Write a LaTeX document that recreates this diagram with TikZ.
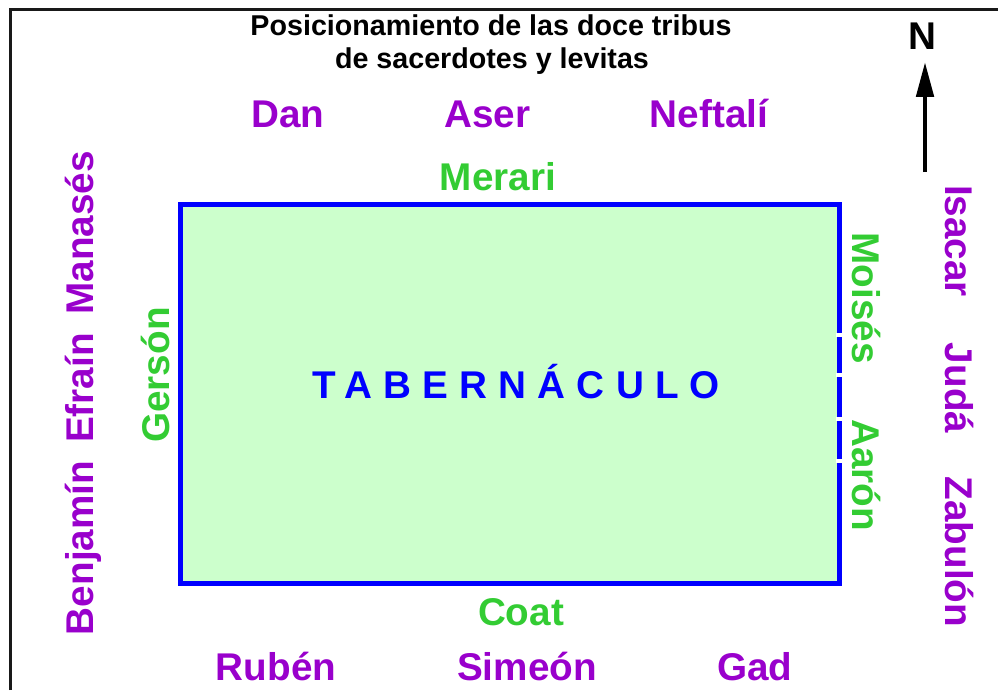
\documentclass[tikz,border=0pt]{standalone}
\usepackage{fontspec}
\setmainfont{Liberation Sans}
\newfontfamily\spacedfont[LetterSpace=29]{Liberation Sans}
\usetikzlibrary{arrows.meta}

\definecolor{tribu}{HTML}{9900CC}
\definecolor{levita}{HTML}{33CC33}
\definecolor{tabblue}{HTML}{0000FF}
\definecolor{tabfill}{HTML}{CCFFCC}

\newcommand{\labelfont}{\fontsize{29}{34}\selectfont\bfseries}
\tikzset{
  tribe/.style={text=tribu, font=\labelfont, inner sep=0pt, anchor=base},
  levite/.style={text=levita, font=\labelfont, inner sep=0pt, anchor=base},
}

\begin{document}
\begin{tikzpicture}[x=0.75pt, y=-0.75pt]
 \useasboundingbox (0,0) rectangle (998,690);
 \draw [line width=2.25pt, black!90] (10.5,690) -- (10.5,9.5) -- (998,9.5);

 \node (t1) at (491,35) [anchor=base, inner sep=0pt, font=\fontsize{21.5}{26}\selectfont\bfseries] {Posicionamiento de las doce tribus};
 \node (t2) at (492,68) [anchor=base, inner sep=0pt, font=\fontsize{21.5}{26}\selectfont\bfseries] {de sacerdotes y levitas};

 % tabernaculo
 \draw [fill=tabfill, draw=tabblue, line width=3.75pt] (180.5,204.5) rectangle (839,583.5);
 \foreach \y in {334.5,375,419,461} {
   \draw [white, line width=3pt] (836.3,\y) -- (842,\y);
 }
 \node (tab) at (312,398) [anchor=base west, inner sep=0pt, text=tabblue, font=\spacedfont\labelfont] {TABERNÁCULO};

 % levitas
 \node (merari) at (498,190) [levite] {Merari};
 \node (coat) at (521,625) [levite] {Coat};
 \node (gerson) at (169,375) [levite, rotate=90] {Gersón};
 \node (moises) at (852,298) [levite, rotate=-90] {Moisés};
 \node (aaron) at (852,475) [levite, rotate=-90] {Aarón};

 % tribus
 \foreach \n/\txt/\x in {dan/Dan/288, aser/Aser/487.5, neftali/Neftalí/709}
   \node (\n) at (\x,127) [tribe] {\txt};
 \foreach \n/\txt/\x in {ruben/Rubén/276, simeon/Simeón/527, gad/Gad/755}
   \node (\n) at (\x,680) [tribe] {\txt};
 \foreach \n/\txt/\y in {manases/Manasés/233, efrain/Efraín/388, benjamin/Benjamín/548}
   \node (\n) at (93,\y) [tribe, rotate=90] {\txt};
 \foreach \n/\txt/\y in {isacar/Isacar/241, juda/Judá/388, zabulon/Zabulón/552}
   \node (\n) at (945,\y) [tribe, rotate=-90] {\txt};

 % norte
 \node (N) at (922.5,49) [anchor=base, inner sep=0pt, font=\labelfont] {N};
 \coordinate (ntail) at (925,172);
 \draw [-{Triangle[length=26pt, width=13pt]}, line width=3pt, shorten >=9.75pt] (ntail) -- (ntail |- N.south);
\end{tikzpicture}
\end{document}
